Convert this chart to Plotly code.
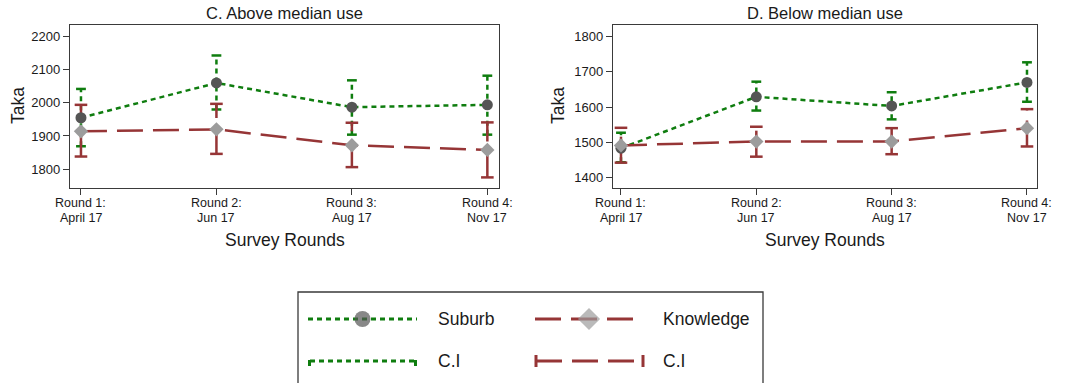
import plotly.graph_objects as go

# ---------------- data ----------------
rounds = [1, 2, 3, 4]
round_line1 = ["Round 1:", "Round 2:", "Round 3:", "Round 4:"]
round_line2 = ["April 17", "Jun 17", "Aug 17", "Nov 17"]

# Panel C: Above median use
c_suburb = [1955, 2060, 1987, 1994]
c_suburb_lo = [1869, 1980, 1904, 1904]
c_suburb_hi = [2042, 2143, 2068, 2082]
c_know = [1914, 1920, 1872, 1858]
c_know_lo = [1838, 1846, 1806, 1775]
c_know_hi = [1994, 1997, 1940, 1941]

# Panel D: Below median use
d_suburb = [1483, 1629, 1603, 1670]
d_suburb_lo = [1443, 1590, 1565, 1615]
d_suburb_hi = [1527, 1672, 1642, 1727]
d_know = [1491, 1502, 1502, 1540]
d_know_lo = [1442, 1459, 1466, 1488]
d_know_hi = [1541, 1544, 1540, 1594]

c_ticks = [1800, 1900, 2000, 2100, 2200]
d_ticks = [1400, 1500, 1600, 1700, 1800]

# ---------------- styles ----------------
W, H = 1076, 383
GREEN = "#0f7d0f"
RED = "#963536"
CIRCLE = "#555555"
DIAMOND = "#9c9c9c"
FONT = "Liberation Sans, Arial, sans-serif"
TXT = "#1a1a1a"
GREEN_DASH = "5px,4px"
RED_DASH = "26px,10px"

fig = go.Figure()


def ci_trace(xs, lo, hi, color, dash, capsize, xa, ya):
    vx, vy = [], []
    for x, a, b in zip(xs, lo, hi):
        vx += [x, x, None]
        vy += [a, b, None]
    fig.add_trace(go.Scatter(x=vx, y=vy, mode="lines", xaxis=xa, yaxis=ya,
                             line=dict(color=color, width=2.5, dash=dash),
                             hoverinfo="skip", showlegend=False))
    fig.add_trace(go.Scatter(x=list(xs) + list(xs), y=list(lo) + list(hi), mode="markers",
                             xaxis=xa, yaxis=ya,
                             marker=dict(symbol="line-ew", size=capsize,
                                         line=dict(color=color, width=2.5)),
                             hoverinfo="skip", showlegend=False))


def panel(sub, sub_lo, sub_hi, kn, kn_lo, kn_hi, xa, ya):
    ci_trace(rounds, sub_lo, sub_hi, GREEN, GREEN_DASH, 7, xa, ya)
    ci_trace(rounds, kn_lo, kn_hi, RED, RED_DASH, 9, xa, ya)
    fig.add_trace(go.Scatter(x=rounds, y=sub, mode="lines+markers", xaxis=xa, yaxis=ya,
                             line=dict(color=GREEN, width=2.5, dash=GREEN_DASH),
                             marker=dict(symbol="circle", size=11, color=CIRCLE),
                             name="Suburb", showlegend=False))
    fig.add_trace(go.Scatter(x=rounds, y=kn, mode="lines+markers", xaxis=xa, yaxis=ya,
                             line=dict(color=RED, width=2.5, dash=RED_DASH),
                             marker=dict(symbol="diamond", size=11, color=DIAMOND),
                             name="Knowledge", showlegend=False))


panel(c_suburb, c_suburb_lo, c_suburb_hi, c_know, c_know_lo, c_know_hi, "x", "y")
panel(d_suburb, d_suburb_lo, d_suburb_hi, d_know, d_know_lo, d_know_hi, "x2", "y2")

# ---------------- custom legend (pixel overlay axis) ----------------
leg_items = [
    (308, 417, 319, GREEN, GREEN_DASH, "circle", CIRCLE, 16),
    (535, 643, 319, RED, RED_DASH, "diamond", DIAMOND, 17),
]
for x0, x1, y, col, dash, sym, mcol, msz in leg_items:
    fig.add_trace(go.Scatter(x=[x0, (x0 + x1) / 2, x1], y=[y, y, y], mode="lines+markers",
                             xaxis="x3", yaxis="y3",
                             line=dict(color=col, width=3, dash=dash),
                             marker=dict(symbol=sym, size=[0, msz, 0], color=mcol, line=dict(width=0)),
                             hoverinfo="skip", showlegend=False))
fig.add_trace(go.Scatter(x=[310, 415], y=[361, 361], mode="lines", xaxis="x3", yaxis="y3",
                         line=dict(color=GREEN, width=3, dash=GREEN_DASH),
                         hoverinfo="skip", showlegend=False))
fig.add_trace(go.Scatter(x=[309.5, 309.5, None, 415.5, 415.5], y=[360, 366, None, 360, 366],
                         mode="lines", xaxis="x3", yaxis="y3",
                         line=dict(color=GREEN, width=3),
                         hoverinfo="skip", showlegend=False))
fig.add_trace(go.Scatter(x=[536, 643], y=[361, 361], mode="lines", xaxis="x3", yaxis="y3",
                         line=dict(color=RED, width=3, dash=RED_DASH),
                         hoverinfo="skip", showlegend=False))
fig.add_trace(go.Scatter(x=[536, 536, None, 643, 643], y=[355, 367, None, 355, 367],
                         mode="lines", xaxis="x3", yaxis="y3",
                         line=dict(color=RED, width=3),
                         hoverinfo="skip", showlegend=False))

ann = []
for txt, x, y in [("Suburb", 436, 319), ("Knowledge", 661, 319), ("C.I", 436, 361), ("C.I", 661, 361)]:
    ann.append(dict(text=txt, x=x, y=y, xref="x3", yref="y3", xanchor="left", yanchor="middle",
                    showarrow=False, font=dict(family=FONT, size=17.5, color=TXT)))

# x tick labels (two tight lines) placed at the axis positions
for xr in ["x", "x2"]:
    for r, l1, l2 in zip(rounds, round_line1, round_line2):
        for txt, y in [(l1, 202.5), (l2, 217.5)]:
            ann.append(dict(text=txt, x=r, y=y, xref=xr, yref="y3", xanchor="center",
                            yanchor="middle", showarrow=False,
                            font=dict(family=FONT, size=12.5, color=TXT)))

# titles
for txt, x, y, size, ang in [
    ("C. Above median use", 284.5, 13, 16.5, 0),
    ("D. Below median use", 825, 13, 16.5, 0),
    ("Taka", 18, 106, 17.5, -90),
    ("Taka", 558, 106, 17.5, -90),
    ("Survey Rounds", 284.5, 240, 17.5, 0),
    ("Survey Rounds", 825, 240, 17.5, 0),
]:
    ann.append(dict(text=txt, x=x, y=y, xref="x3", yref="y3", xanchor="center", yanchor="middle",
                    textangle=ang, showarrow=False, font=dict(family=FONT, size=size, color=TXT)))

axis_common = dict(showgrid=False, zeroline=False, showline=True, mirror=True,
                   linecolor="#3a3a3a", linewidth=1.3, ticks="outside", ticklen=6,
                   tickcolor="#3a3a3a", tickwidth=1.2, automargin=False,
                   tickfont=dict(family=FONT, size=13, color=TXT), fixedrange=True)

y_top, y_bot = 25, 188
fig.update_layout(
    template="none",
    width=W, height=H,
    margin=dict(l=0, r=0, t=0, b=0, pad=0),
    paper_bgcolor="white", plot_bgcolor="rgba(0,0,0,0)",
    showlegend=False,
    xaxis=dict(domain=[70 / W, 499 / W], range=[0.919, 4.086], tickvals=rounds,
               showticklabels=False, anchor="y", **axis_common),
    yaxis=dict(domain=[1 - y_bot / H, 1 - y_top / H], range=[1743, 2235], tickvals=c_ticks,
               anchor="x", **axis_common),
    xaxis2=dict(domain=[613 / W, 1037 / W], range=[0.941, 4.074], tickvals=rounds,
                showticklabels=False, anchor="y2", **axis_common),
    yaxis2=dict(domain=[1 - y_bot / H, 1 - y_top / H], range=[1370, 1833], tickvals=d_ticks,
                anchor="x2", **axis_common),
    xaxis3=dict(domain=[0, 1], range=[0, W], visible=False, anchor="y3", fixedrange=True,
                automargin=False),
    yaxis3=dict(domain=[0, 1], range=[H, 0], visible=False, anchor="x3", fixedrange=True,
                automargin=False),
    annotations=ann,
    shapes=[dict(type="rect", xref="paper", yref="paper", x0=298 / W, x1=763 / W,
                 y0=-0.2, y1=1 - 292 / H, line=dict(color="#3a3a3a", width=1.3),
                 fillcolor="rgba(0,0,0,0)", layer="below")],
)

fig.write_html("out.html", config={"displayModeBar": False},
               post_script="document.body.style.margin='0';document.body.style.overflow='hidden';")
